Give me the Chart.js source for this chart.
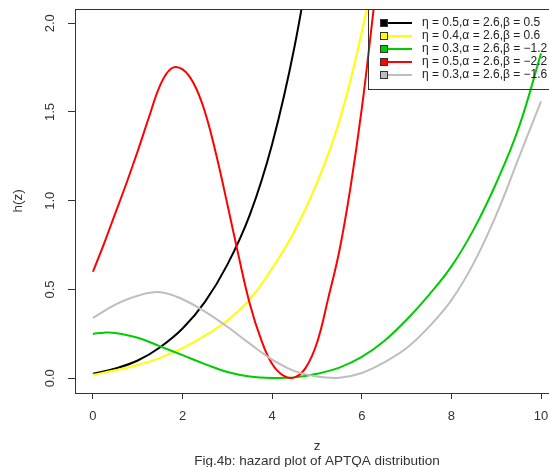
<!DOCTYPE html>
<html>
<head>
<meta charset="UTF-8">
<title>hazard plot of APTQA distribution</title>
<script src="https://cdn.jsdelivr.net/npm/chart.js"></script>
<style>
  body { margin: 0; background: #fff; overflow: hidden; }
  #wrap { width: 565px; height: 467px; }
</style>
</head>
<body>
<div id="wrap"><canvas id="c"></canvas></div>
<script>
// values
const zBlack = [0, 0.5, 1, 1.5, 2, 2.5, 3, 3.5, 4, 4.5, 5];
const hBlack = [0.025, 0.055, 0.1, 0.175, 0.28, 0.43, 0.64, 0.92, 1.32, 1.87, 2.6];

const zYellow = [0, 0.5, 1, 1.5, 2, 2.5, 3, 3.5, 4, 4.5, 5, 5.5, 6, 6.5];
const hYellow = [0.02, 0.045, 0.075, 0.115, 0.17, 0.24, 0.325, 0.445, 0.62, 0.83, 1.1, 1.45, 1.95, 2.6];

const zGreen = [0, 0.25, 0.5, 1, 1.5, 2, 2.5, 3, 3.5, 4, 4.5, 5, 5.5, 6, 6.5, 7, 7.5, 8, 8.5, 9, 9.5, 10];
const hGreen = [0.25, 0.257, 0.255, 0.228, 0.18, 0.13, 0.08, 0.035, 0.01, 0.002, 0.005, 0.025, 0.06, 0.12, 0.21, 0.33, 0.47, 0.63, 0.84, 1.1, 1.41, 1.83];

const zRed = [0, 0.25, 0.5, 0.75, 1, 1.25, 1.5, 1.75, 2, 2.25, 2.5, 2.75, 3, 3.25, 3.5, 3.75, 4, 4.25, 4.5, 4.75, 5, 5.25, 5.5, 5.75, 6, 6.25, 6.5];
const hRed = [0.6, 0.76, 0.93, 1.1, 1.28, 1.47, 1.65, 1.745, 1.74, 1.66, 1.5, 1.26, 0.98, 0.69, 0.42, 0.22, 0.08, 0.015, 0.005, 0.06, 0.2, 0.45, 0.72, 1.08, 1.52, 2.05, 2.6];

const zGray = [0, 0.5, 1, 1.5, 2, 2.5, 3, 3.5, 4, 4.5, 5, 5.5, 6, 6.5, 7, 7.5, 8, 8.5, 9, 9.5, 10];
const hGray = [0.34, 0.415, 0.465, 0.485, 0.445, 0.375, 0.29, 0.195, 0.105, 0.04, 0.01, 0.003, 0.03, 0.09, 0.17, 0.29, 0.44, 0.65, 0.92, 1.24, 1.56];

const legendLabels = [
  'η = 0.5,α = 2.6,β = 0.5',
  'η = 0.4,α = 2.6,β = 0.6',
  'η = 0.3,α = 2.6,β = −1.2',
  'η = 0.5,α = 2.6,β = −2.2',
  'η = 0.3,α = 2.6,β = −1.6'
];
const colors = ['#000000', '#ffff00', '#00cd00', '#ff0000', '#bebebe'];

const FONT = '"Liberation Sans", Arial, sans-serif';
const INK = '#333';

function pts(zs, hs) {
  return zs.map((z, i) => ({ x: z, y: hs[i] }));
}

const series = [pts(zBlack, hBlack), pts(zYellow, hYellow), pts(zGreen, hGreen), pts(zRed, hRed), pts(zGray, hGray)];

// box, rotated y labels, titles and legend, R style
const extras = {
  id: 'extras',
  afterDraw(chart) {
    const ctx = chart.ctx;
    const a = chart.chartArea;
    const ys = chart.scales.y;
    ctx.save();
    ctx.strokeStyle = INK;
    ctx.lineWidth = 1;
    ctx.strokeRect(a.left + 0.5, a.top + 0.5, a.right - a.left, a.bottom - a.top);

    ctx.fillStyle = INK;
    ctx.font = '13px ' + FONT;
    ctx.textAlign = 'center';
    ctx.textBaseline = 'middle';
    ys.ticks.forEach(t => {
      const y = ys.getPixelForValue(t.value);
      ctx.save();
      ctx.translate(50, y);
      ctx.rotate(-Math.PI / 2);
      ctx.fillText(t.value.toFixed(1), 0, 0);
      ctx.restore();
    });

    ctx.font = '13.5px ' + FONT;
    ctx.save();
    ctx.translate(18, (a.top + a.bottom) / 2);
    ctx.rotate(-Math.PI / 2);
    ctx.fillText('h(z)', 0, 0);
    ctx.restore();

    const cx = (a.left + a.right) / 2;
    ctx.fillText('z', cx, 446);
    ctx.fillText('Fig.4b: hazard plot of APTQA distribution', cx, 461);

    // legend
    const lx = 368, ly = a.top;
    ctx.strokeRect(lx + 0.5, ly + 0.5, a.right - lx, 80);
    ctx.font = '12px ' + FONT;
    ctx.textAlign = 'left';
    legendLabels.forEach((lab, i) => {
      const y = ly + 14 + i * 13;
      ctx.strokeStyle = colors[i];
      ctx.lineWidth = 2;
      ctx.beginPath();
      ctx.moveTo(380, y);
      ctx.lineTo(412, y);
      ctx.stroke();
      ctx.fillStyle = colors[i];
      ctx.fillRect(380, y - 4, 8, 8);
      ctx.strokeStyle = INK;
      ctx.lineWidth = 1;
      ctx.strokeRect(380.5, y - 3.5, 7, 7);
      ctx.fillStyle = '#222';
      ctx.fillText(lab, 422, y);
    });
    ctx.restore();
  }
};

new Chart(document.getElementById('c'), {
  type: 'line',
  data: {
    datasets: series.map((d, i) => ({
      data: d,
      borderColor: colors[i],
      borderWidth: 2,
      pointRadius: 0,
      tension: 0.4,
      fill: false,
      clip: 0,
      order: 5 - i
    }))
  },
  options: {
    responsive: true,
    maintainAspectRatio: false,
    animation: false,
    layout: { padding: { top: 9, right: 6, left: 0, bottom: 0 } },
    plugins: { legend: { display: false }, tooltip: { enabled: false } },
    scales: {
      x: {
        type: 'linear',
        min: -0.4,
        max: 10.4,
        afterFit(s) { s.height = 74; },
        ticks: { stepSize: 2, includeBounds: false, padding: 10, color: INK, font: { family: FONT, size: 13 } },
        grid: { drawOnChartArea: false, drawTicks: true, tickLength: 6, color: INK },
        border: { display: true, color: INK }
      },
      y: {
        type: 'linear',
        min: -0.083,
        max: 2.08,
        afterFit(s) { s.width = 75; },
        ticks: { stepSize: 0.5, includeBounds: false, display: false },
        grid: { drawOnChartArea: false, drawTicks: true, tickLength: 7, color: INK },
        border: { display: true, color: INK }
      }
    }
  },
  plugins: [extras]
});
</script>
</body>
</html>
